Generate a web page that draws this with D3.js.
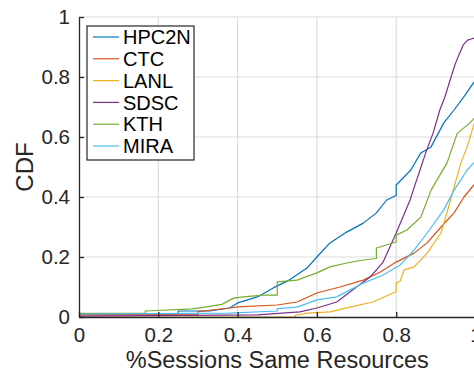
<!DOCTYPE html>
<html>
<head>
<meta charset="utf-8">
<script src="https://cdn.jsdelivr.net/npm/d3@7"></script>
<style>
  html, body { margin: 0; padding: 0; background: #fff; }
  svg { display: block; font-family: "Liberation Sans", Arial, Helvetica, sans-serif; }
</style>
</head>
<body>
<div id="chart"></div>
<script>
// ── data ──
const names = ["HPC2N", "CTC", "LANL", "SDSC", "KTH", "MIRA"];
const colors = ["#0072BD", "#D95319", "#EDB120", "#7E2F8E", "#77AC30", "#4DBEEE"];
const xTicks = [0, 0.2, 0.4, 0.6, 0.8, 1];
const yTicks = [0, 0.2, 0.4, 0.6, 0.8, 1];

const hpc2nX = [0, 0.25, 0.25, 0.33, 0.38, 0.40, 0.45, 0.49, 0.53, 0.575, 0.60, 0.633, 0.675, 0.717, 0.75, 0.776, 0.80, 0.80, 0.837, 0.862, 0.888, 0.92, 0.946, 0.97, 1.0];
const hpc2nY = [0.01, 0.01, 0.02, 0.02, 0.03, 0.047, 0.067, 0.097, 0.123, 0.163, 0.2, 0.247, 0.283, 0.313, 0.347, 0.39, 0.405, 0.44, 0.49, 0.547, 0.567, 0.647, 0.69, 0.733, 0.79];

const ctcX = [0, 0.30, 0.30, 0.38, 0.40, 0.50, 0.55, 0.60, 0.658, 0.717, 0.76, 0.80, 0.845, 0.878, 0.913, 0.946, 0.971, 1.0];
const ctcY = [0.007, 0.007, 0.018, 0.03, 0.034, 0.04, 0.05, 0.08, 0.10, 0.123, 0.15, 0.183, 0.213, 0.247, 0.30, 0.347, 0.40, 0.447];

const lanlX = [0, 0.545, 0.545, 0.575, 0.633, 0.683, 0.741, 0.792, 0.80, 0.80, 0.81, 0.82, 0.845, 0.878, 0.913, 0.928, 0.946, 0.963, 0.979, 1.0];
const lanlY = [0, 0, 0.005, 0.013, 0.017, 0.033, 0.05, 0.08, 0.085, 0.113, 0.12, 0.157, 0.167, 0.213, 0.28, 0.347, 0.433, 0.513, 0.567, 0.66];

const sdscX = [0, 0.45, 0.557, 0.60, 0.65, 0.70, 0.734, 0.767, 0.80, 0.835, 0.843, 0.86, 0.877, 0.893, 0.91, 0.923, 0.936, 0.948, 0.956, 0.969, 0.98, 0.995, 1.0];
const sdscY = [0.003, 0.007, 0.017, 0.03, 0.05, 0.10, 0.133, 0.183, 0.28, 0.39, 0.423, 0.49, 0.557, 0.613, 0.69, 0.734, 0.79, 0.84, 0.867, 0.907, 0.923, 0.929, 0.93];

const kthX = [0, 0.167, 0.167, 0.285, 0.31, 0.36, 0.39, 0.415, 0.465, 0.50, 0.50, 0.55, 0.60, 0.633, 0.675, 0.717, 0.75, 0.75, 0.80, 0.80, 0.827, 0.862, 0.888, 0.903, 0.928, 0.954, 0.986, 1.0];
const kthY = [0.012, 0.012, 0.02, 0.027, 0.031, 0.042, 0.063, 0.067, 0.073, 0.073, 0.117, 0.123, 0.147, 0.167, 0.18, 0.19, 0.195, 0.23, 0.25, 0.273, 0.29, 0.333, 0.423, 0.457, 0.513, 0.612, 0.647, 0.667];

const miraX = [0, 0.38, 0.50, 0.50, 0.55, 0.60, 0.65, 0.717, 0.767, 0.81, 0.845, 0.878, 0.92, 0.946, 0.979, 1.0];
const miraY = [0.01, 0.013, 0.02, 0.028, 0.033, 0.057, 0.067, 0.113, 0.14, 0.173, 0.223, 0.28, 0.357, 0.423, 0.49, 0.52];

const seriesX = [hpc2nX, ctcX, lanlX, sdscX, kthX, miraX];
const seriesY = [hpc2nY, ctcY, lanlY, sdscY, kthY, miraY];

// ── chart ──
const width = 474, height = 374;
const axisColor = "#262626";
const gridColor = "#dcdcdc";

const x = d3.scaleLinear().domain([0, 1]).range([79, 475.5]);
const y = d3.scaleLinear().domain([0, 1]).range([317, 17]);

const svg = d3.select("#chart").append("svg")
  .attr("width", width).attr("height", height)
  .attr("viewBox", [0, 0, width, height]);

// grid
svg.append("g")
  .attr("stroke", gridColor).attr("stroke-width", 1.2)
  .selectAll("line").data(xTicks.slice(1)).join("line")
  .attr("x1", d => x(d)).attr("x2", d => x(d))
  .attr("y1", y(0)).attr("y2", y(1));

svg.append("g")
  .attr("stroke", gridColor).attr("stroke-width", 1.2)
  .selectAll("line").data(yTicks.slice(1)).join("line")
  .attr("x1", x(0)).attr("x2", x(1))
  .attr("y1", d => y(d)).attr("y2", d => y(d));

// curves
const line = d3.line().x(d => x(d[0])).y(d => y(d[1]));

svg.append("g")
  .attr("fill", "none").attr("stroke-width", 1.2).attr("stroke-linejoin", "round")
  .selectAll("path").data(names).join("path")
  .attr("stroke", (d, i) => colors[i])
  .attr("d", (d, i) => line(seriesX[i].map((v, j) => [v, seriesY[i][j]])));

// axes
const xAxis = svg.append("g")
  .attr("transform", `translate(0,${y(0)})`)
  .call(d3.axisBottom(x).tickValues(xTicks).tickFormat(d3.format("~g")).tickSizeInner(-5).tickSizeOuter(0).tickPadding(10));

const yAxis = svg.append("g")
  .attr("transform", `translate(${x(0)},0)`)
  .call(d3.axisLeft(y).tickValues(yTicks).tickFormat(d3.format("~g")).tickSizeInner(-5).tickSizeOuter(0).tickPadding(9));

[xAxis, yAxis].forEach(g => {
  g.select(".domain").attr("stroke", axisColor).attr("stroke-width", 1.3);
  g.selectAll(".tick line").attr("stroke", axisColor).attr("stroke-width", 1.3);
  g.selectAll(".tick text").attr("fill", axisColor).attr("font-size", "20.5px")
    .attr("font-family", "'Liberation Sans', Arial, sans-serif");
});

// axis labels
svg.append("text")
  .attr("x", (x(0) + x(1)) / 2).attr("y", 367.5)
  .attr("text-anchor", "middle").attr("fill", axisColor).attr("font-size", "23.5px")
  .text("%Sessions Same Resources");

svg.append("text")
  .attr("transform", `translate(33,${(y(0) + y(1)) / 2}) rotate(-90)`)
  .attr("text-anchor", "middle").attr("fill", axisColor).attr("font-size", "24px")
  .text("CDF");

// legend
const legend = svg.append("g").attr("transform", "translate(87,26)");
legend.append("rect")
  .attr("width", 107).attr("height", 134)
  .attr("fill", "#fff").attr("stroke", axisColor).attr("stroke-width", 1.2);

const item = legend.selectAll("g").data(names).join("g")
  .attr("transform", (d, i) => `translate(0,${11 + i * 21.8})`);

item.append("line")
  .attr("x1", 6).attr("x2", 32)
  .attr("stroke", (d, i) => colors[i]).attr("stroke-width", 1.2);

item.append("text")
  .attr("x", 36).attr("dy", "0.36em")
  .attr("fill", "#000").attr("font-size", "20px")
  .text(d => d);
</script>
</body>
</html>
